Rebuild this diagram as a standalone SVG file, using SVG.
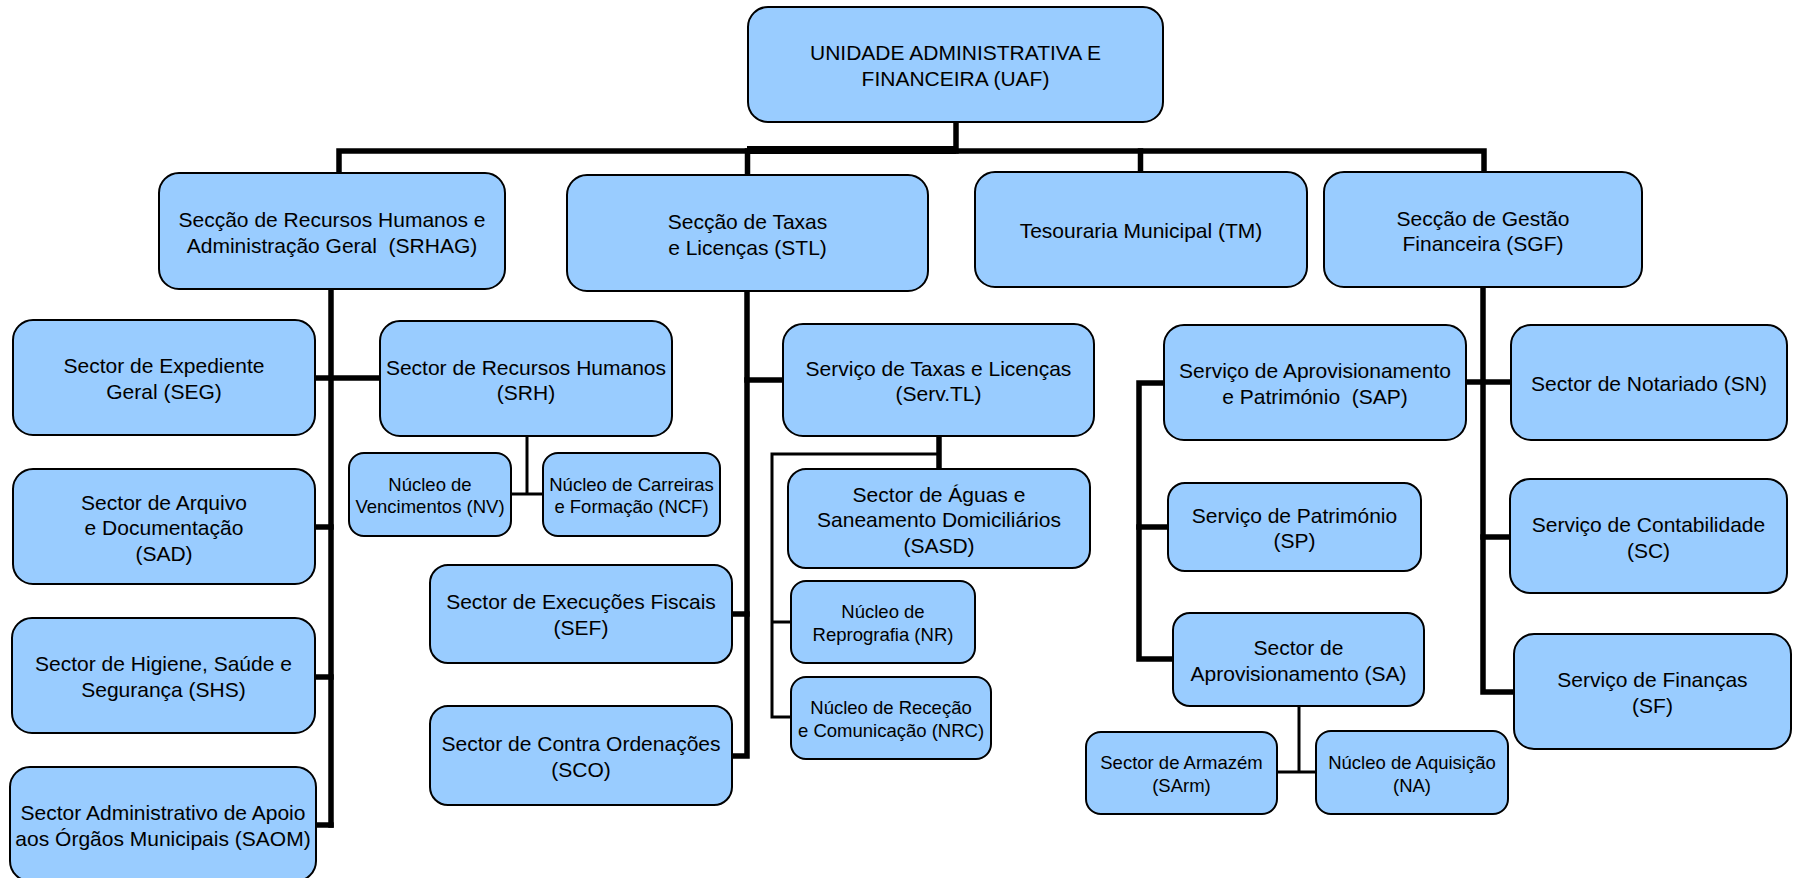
<svg xmlns="http://www.w3.org/2000/svg" width="1798" height="878" viewBox="0 0 1798 878">
<style>
.b{fill:#99CCFF;stroke:#000;stroke-width:2}
.t{font-family:"Liberation Sans",Arial,sans-serif;font-size:21px;fill:#000;text-anchor:middle}
.s{font-family:"Liberation Sans",Arial,sans-serif;font-size:18.5px;fill:#000;text-anchor:middle}
.k{fill:none;stroke:#000;stroke-width:5.5;stroke-linejoin:miter;stroke-linecap:square}
.n{fill:none;stroke:#000;stroke-width:3;stroke-linejoin:miter}
</style>
<rect width="1798" height="878" fill="#fff"/>
<g id="connectors">
<path class="k" d="M339,173 V151 H1484 V172"/>
<path d="M747,150 H956" fill="none" stroke="#000" stroke-width="8"/>
<path class="k" d="M956,122 V151"/>
<path class="k" d="M747.5,151 V175"/>
<path class="k" d="M1140.5,151 V172"/>
<path class="k" d="M331,289 V825"/>
<path class="k" d="M315,378 H380"/>
<path class="k" d="M315,527 H331"/>
<path class="k" d="M315,677 H331"/>
<path class="k" d="M316,825 H331"/>
<path class="k" d="M747,291 V756 H732"/>
<path class="k" d="M747,380 H783"/>
<path class="k" d="M732,614 H747"/>
<path class="k" d="M939,436 V469"/>
<path class="k" d="M1483,287 V692 H1514"/>
<path class="k" d="M1466,382 H1511"/>
<path class="k" d="M1483,537 H1510"/>
<path class="k" d="M1164,383 H1139 V659 H1173"/>
<path class="k" d="M1139,527 H1168"/>
<path class="n" d="M527,436 V494"/>
<path class="n" d="M511,494 H543"/>
<path class="n" d="M939,454 H772 V717 H791"/>
<path class="n" d="M772,622 H791"/>
<path class="n" d="M1299,706 V772"/>
<path class="n" d="M1277,772 H1316"/>
</g>
<g id="UAF"><rect class="b" x="748" y="7" width="415" height="115" rx="20"/><text class="t" x="955.5" y="60">UNIDADE ADMINISTRATIVA E</text><text class="t" x="955.5" y="85.5">FINANCEIRA (UAF)</text></g>
<g id="SRHAG"><rect class="b" x="159" y="173" width="346" height="116" rx="20"/><text class="t" x="332" y="227">Secção de Recursos Humanos e</text><text class="t" x="332" y="252.5" xml:space="preserve">Administração Geral  (SRHAG)</text></g>
<g id="STL"><rect class="b" x="567" y="175" width="361" height="116" rx="20"/><text class="t" x="747.5" y="229">Secção de Taxas</text><text class="t" x="747.5" y="254.5">e Licenças (STL)</text></g>
<g id="TM"><rect class="b" x="975" y="172" width="332" height="115" rx="20"/><text class="t" x="1141" y="238">Tesouraria Municipal (TM)</text></g>
<g id="SGF"><rect class="b" x="1324" y="172" width="318" height="115" rx="20"/><text class="t" x="1483" y="225.5">Secção de Gestão</text><text class="t" x="1483" y="251">Financeira (SGF)</text></g>
<g id="SEG"><rect class="b" x="13" y="320" width="302" height="115" rx="20"/><text class="t" x="164" y="373">Sector de Expediente</text><text class="t" x="164" y="398.5">Geral (SEG)</text></g>
<g id="SRH"><rect class="b" x="380" y="321" width="292" height="115" rx="20"/><text class="t" x="526" y="374.5">Sector de Recursos Humanos</text><text class="t" x="526" y="400">(SRH)</text></g>
<g id="NV"><rect class="b" x="349" y="453" width="162" height="83" rx="15"/><text class="s" x="430" y="490.5">Núcleo de</text><text class="s" x="430" y="513.2">Vencimentos (NV)</text></g>
<g id="NCF"><rect class="b" x="543" y="453" width="177" height="83" rx="15"/><text class="s" x="631.5" y="490.5">Núcleo de Carreiras</text><text class="s" x="631.5" y="513.2">e Formação (NCF)</text></g>
<g id="SAD"><rect class="b" x="13" y="469" width="302" height="115" rx="20"/><text class="t" x="164" y="509.5">Sector de Arquivo</text><text class="t" x="164" y="535">e Documentação</text><text class="t" x="164" y="560.5">(SAD)</text></g>
<g id="SHS"><rect class="b" x="12" y="618" width="303" height="115" rx="20"/><text class="t" x="163.5" y="671">Sector de Higiene, Saúde e</text><text class="t" x="163.5" y="696.5">Segurança (SHS)</text></g>
<g id="SAOM"><rect class="b" x="10" y="767" width="306" height="114" rx="20"/><text class="t" x="163" y="820">Sector Administrativo de Apoio</text><text class="t" x="163" y="846">aos Órgãos Municipais (SAOM)</text></g>
<g id="SEF"><rect class="b" x="430" y="565" width="302" height="98" rx="18"/><text class="t" x="581" y="609.3">Sector de Execuções Fiscais</text><text class="t" x="581" y="634.8">(SEF)</text></g>
<g id="SCO"><rect class="b" x="430" y="706" width="302" height="99" rx="18"/><text class="t" x="581" y="751">Sector de Contra Ordenações</text><text class="t" x="581" y="776.5">(SCO)</text></g>
<g id="ServTL"><rect class="b" x="783" y="324" width="311" height="112" rx="20"/><text class="t" x="938.5" y="375.8">Serviço de Taxas e Licenças</text><text class="t" x="938.5" y="401.3">(Serv.TL)</text></g>
<g id="SASD"><rect class="b" x="788" y="469" width="302" height="99" rx="18"/><text class="t" x="939" y="501.5">Sector de Águas e</text><text class="t" x="939" y="527">Saneamento Domiciliários</text><text class="t" x="939" y="552.5">(SASD)</text></g>
<g id="NR"><rect class="b" x="791" y="581" width="184" height="82" rx="15"/><text class="s" x="883" y="618.3">Núcleo de</text><text class="s" x="883" y="641">Reprografia (NR)</text></g>
<g id="NRC"><rect class="b" x="791" y="677" width="200" height="82" rx="15"/><text class="s" x="891" y="714.3">Núcleo de Receção</text><text class="s" x="891" y="737">e Comunicação (NRC)</text></g>
<g id="SAP"><rect class="b" x="1164" y="325" width="302" height="115" rx="20"/><text class="t" x="1315" y="378">Serviço de Aprovisionamento</text><text class="t" x="1315" y="403.5" xml:space="preserve">e Património  (SAP)</text></g>
<g id="SP"><rect class="b" x="1168" y="483" width="253" height="88" rx="17"/><text class="t" x="1294.5" y="522.8">Serviço de Património</text><text class="t" x="1294.5" y="548.3">(SP)</text></g>
<g id="SA"><rect class="b" x="1173" y="613" width="251" height="93" rx="17"/><text class="t" x="1298.5" y="655.3">Sector de</text><text class="t" x="1298.5" y="680.8">Aprovisionamento (SA)</text></g>
<g id="SArm"><rect class="b" x="1086" y="732" width="191" height="82" rx="15"/><text class="s" x="1181.5" y="769.3">Sector de Armazém</text><text class="s" x="1181.5" y="792">(SArm)</text></g>
<g id="NA"><rect class="b" x="1316" y="731" width="192" height="83" rx="15"/><text class="s" x="1412" y="769">Núcleo de Aquisição</text><text class="s" x="1412" y="791.7">(NA)</text></g>
<g id="SN"><rect class="b" x="1511" y="325" width="276" height="115" rx="20"/><text class="t" x="1649" y="391">Sector de Notariado (SN)</text></g>
<g id="SC"><rect class="b" x="1510" y="479" width="277" height="114" rx="20"/><text class="t" x="1648.5" y="532.3">Serviço de Contabilidade</text><text class="t" x="1648.5" y="557.8">(SC)</text></g>
<g id="SF"><rect class="b" x="1514" y="634" width="277" height="115" rx="20"/><text class="t" x="1652.5" y="687.3">Serviço de Finanças</text><text class="t" x="1652.5" y="712.8">(SF)</text></g>
</svg>
